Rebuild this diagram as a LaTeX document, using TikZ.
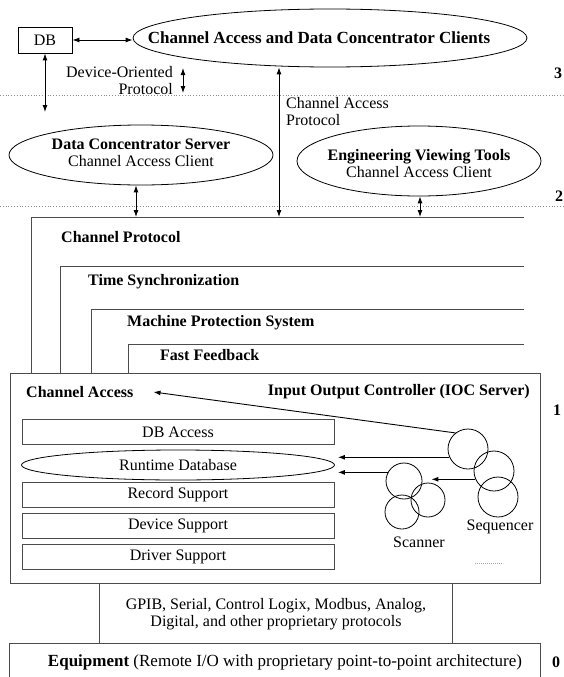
\documentclass[tikz,border=0pt]{standalone}
\usepackage{fontspec}
\setmainfont{Liberation Serif}
\usetikzlibrary{shapes,arrows,positioning,calc,arrows.meta}

\begin{document}
\begin{tikzpicture}[x=1pt,y=-1pt,
    font=\fontsize{16}{17}\selectfont,
    every node/.style={inner sep=1pt},
    frame/.style={draw=black!70,line width=1pt},
    stackbox/.style={draw=black!70,line width=0.9pt,minimum width=312pt,minimum height=25pt,inner sep=0pt},
    oval/.style={ellipse,draw,line width=0.8pt,inner sep=0pt},
    proc/.style={circle,draw,line width=0.8pt,minimum size=40pt,inner sep=0pt},
    link/.style={line width=0.9pt,-{Latex[length=7pt,width=5pt]}},
    dlink/.style={line width=0.9pt,{Latex[length=7pt,width=5pt]}-{Latex[length=7pt,width=5pt]}},
    tier/.style={draw=black!45,line width=0.8pt,dash pattern=on 0.8pt off 2pt},
    level/.style={font=\fontsize{16}{17}\selectfont\bfseries}]
    \useasboundingbox (0,0) rectangle (564,677);

    % level separators
    \draw[tier] (0,95) -- (564,95);
    \draw[tier] (0,206) -- (564,206);
    \node[level] (lvl3) at (558,73) {3};
    \node[level] (lvl2) at (559,196) {2};
    \node[level] (lvl1) at (557,410) {1};
    \node[level] (lvl0) at (556,662) {0};

    % clients
    \node[draw,line width=0.9pt,minimum width=54pt,minimum height=26pt] (db) at (45,40) {DB};
    \node[oval,minimum width=394pt,minimum height=58pt] (clients) at (330,38) {};
    \node[font=\fontsize{17}{18}\selectfont\bfseries] (clientstext) at (319,38) {Channel Access and Data Concentrator Clients};
    \draw[dlink] (db.east) -- (clients.west |- db.east);
    \coordinate (dbend) at (45,112);
    \draw[dlink] (db) -- (dbend);
    \node[align=right,anchor=east] (devproto) at (174,81) {Device-Oriented\\Protocol};
    \coordinate (dop1) at (183,68);
    \coordinate (dop2) at (183,93);
    \draw[dlink] (dop1) -- (dop2);
    \node[align=left,anchor=west] (caproto) at (285,112) {Channel Access\\Protocol};

    % servers and tools
    \node[oval,minimum width=264pt,minimum height=60pt] (dcs) at (141,155) {};
    \node[align=center] (dcstext) at (141,153) {\textbf{Data Concentrator Server}\\Channel Access Client};
    \node[oval,minimum width=244pt,minimum height=70pt] (evt) at (419,161) {};
    \node[align=center] (evttext) at (419,164) {\textbf{Engineering Viewing Tools}\\Channel Access Client};

    % protocol layers
    \foreach \lx/\ly/\tx/\ty/\txt [count=\i] in {31/217/60/237/Channel Protocol,
        60/266/87/282/Time Synchronization,
        91/309/126/323/Machine Protection System,
        128/344/159/355/Fast Feedback}{
      \draw[frame] (\lx,373) |- (524,\ly);
      \node[anchor=west] (layer\i) at (\tx,\ty) {\textbf{\txt}};
    }
    \coordinate (cp1) at (136,217);
    \coordinate (cp2) at (279,217);
    \coordinate (cp3) at (420,217);
    \draw[dlink] (dcs.south -| cp1) -- (cp1);
    \draw[dlink] (clients.south -| cp2) -- (cp2);
    \draw[dlink] (evt.south -| cp3) -- (cp3);

    % IOC
    \node[frame,minimum width=530pt,minimum height=210pt,anchor=north west] (ioc) at (10,373) {};
    \node[anchor=west] (ca) at (25,392) {\textbf{Channel Access}};
    \node[anchor=east] (ioctitle) at (531,392) {\textbf{Input Output Controller (IOC Server)}};
    \node[stackbox] (dbacc) at (178,432) {DB Access};
    \node[oval,draw=black,minimum width=313pt,minimum height=30pt] (runtime) at (178,465) {Runtime Database};
    \node[stackbox] (record) at (178,495) {Record Support};
    \node[stackbox] (device) at (178,526) {Device Support};
    \node[stackbox] (driver) at (178,557) {Driver Support};

    % sequencer and scanner
    \node[proc] (seqA) at (468,449) {};
    \node[proc] (seqB) at (494,471) {};
    \node[proc] (seqC) at (498,497) {};
    \node (seqlabel) at (500,527) {Sequencer};
    \node[proc,minimum size=36pt] (scanA) at (404,481) {};
    \node[proc,minimum size=34pt] (scanB) at (428,500) {};
    \node[proc,minimum size=34pt] (scanC) at (402,512) {};
    \node (scanlabel) at (419,542) {Scanner};
    \draw[black!35,dash pattern=on 0.6pt off 1.4pt] (475,563) -- (503,563);

    \coordinate (rt) at ([xshift=3pt]runtime.east);
    \coordinate (scantip) at ([xshift=9pt]scanA.east);
    \draw[link] (seqA.128) -- ([xshift=19pt]ca.east);
    \draw[link] (seqA.204) -- (seqA.204 -| rt);
    \draw[link] (scanA.152) -- (scanA.152 -| rt);
    \draw[link] (seqB.204) -- (seqB.204 -| scantip);

    % field protocols and equipment
    \draw[frame] (99,583) -- (99,643);
    \draw[frame] (452,583) -- (452,643);
    \node[align=center] (fieldproto) at (276,614) {GPIB, Serial, Control Logix, Modbus, Analog,\\Digital, and other proprietary protocols};
    \draw[frame] (9,680) |- (540,643) -- (540,680);
    \node[font=\fontsize{17}{18}\selectfont] (equip) at (285,662) {\textbf{Equipment} (Remote I/O with proprietary point-to-point architecture)};
\end{tikzpicture}
\end{document}
